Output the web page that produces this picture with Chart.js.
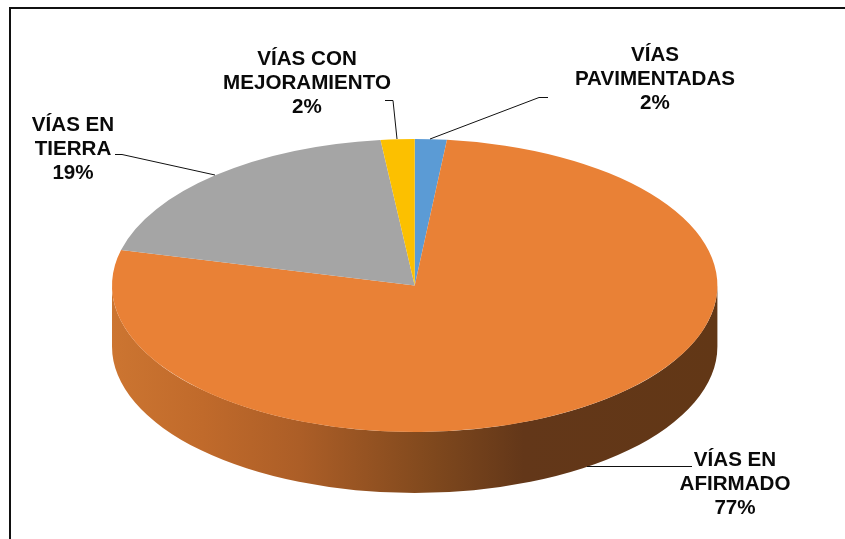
<!DOCTYPE html>
<html>
<head>
<meta charset="utf-8">
<title>Vías</title>
<script src="https://cdn.jsdelivr.net/npm/chart.js@4"></script>
<style>
    html, body { margin: 0; padding: 0; background: #fff; overflow: hidden; }
    canvas { display: block; }
</style>
</head>
<body>
<canvas id="viasChart" width="845" height="539"></canvas>
<script>
const categories = ['VÍAS PAVIMENTADAS', 'VÍAS EN AFIRMADO', 'VÍAS EN TIERRA', 'VÍAS CON MEJORAMIENTO'];
const values = [1.7, 77.2, 19.3, 1.8];
const sliceColors = ['#5b9bd5', '#e98136', '#a5a5a5', '#fcc000'];

// label placement, one entry per category
const labelLines = [['VÍAS', 'PAVIMENTADAS'], ['VÍAS EN', 'AFIRMADO'], ['VÍAS EN', 'TIERRA'], ['VÍAS CON', 'MEJORAMIENTO']];
const labelCenters = [[655, 55], [735, 460], [73, 125], [307, 59]];
const leaders = [
    [[548, 97.5], [539, 97.5], [430, 139]],
    [[692, 466.5], [587, 466.5]],
    [[115, 154.5], [122, 154.5], [215, 175]],
    [[385, 100.5], [393, 100.5], [397, 139]]
];

const squash = 302.7 / 146.5;
const wallDepth = 61;

// Side wall below the pie, then stretches the round pie into an ellipse
const pie3d = {
    id: 'pie3d',
    beforeDatasetsDraw(chart) {
        const ctx = chart.ctx;
        const arcs = chart.getDatasetMeta(0).data;
        const cx = arcs[0].x, cy = arcs[0].y;
        const rx = arcs[0].outerRadius * squash, ry = arcs[0].outerRadius;

        const wall = ctx.createLinearGradient(cx - rx, 0, cx + rx, 0);
        wall.addColorStop(0, '#cc7531');
        wall.addColorStop(0.15, '#c06a2b');
        wall.addColorStop(0.31, '#ac5e27');
        wall.addColorStop(0.53, '#7f481d');
        wall.addColorStop(0.68, '#633719');
        wall.addColorStop(1, '#623716');

        arcs.forEach(function (arc) {
            const from = Math.max(arc.startAngle, 0);
            const to = Math.min(arc.endAngle, Math.PI);
            if (to <= from) return;
            ctx.beginPath();
            ctx.ellipse(cx, cy, rx, ry, 0, from, to);
            ctx.ellipse(cx, cy + wallDepth, rx, ry, 0, to, from, true);
            ctx.closePath();
            ctx.fillStyle = wall;
            ctx.fill();
        });

        ctx.save();
        ctx.translate(cx, 0);
        ctx.scale(squash, 1);
        ctx.translate(-cx, 0);
    },
    afterDatasetsDraw(chart) {
        chart.ctx.restore();
    },
    afterDraw(chart) {
        const ctx = chart.ctx;

        // frame, only top and left in the picture
        ctx.strokeStyle = '#111';
        ctx.lineWidth = 2;
        ctx.beginPath();
        ctx.moveTo(845, 8);
        ctx.lineTo(10, 8);
        ctx.lineTo(10, 539);
        ctx.stroke();

        ctx.strokeStyle = '#111';
        ctx.lineWidth = 1;
        leaders.forEach(function (pts) {
            ctx.beginPath();
            pts.forEach(function (p, i) {
                if (i === 0) ctx.moveTo(p[0], p[1]);
                else ctx.lineTo(p[0], p[1]);
            });
            ctx.stroke();
        });

        ctx.fillStyle = '#0a0a0a';
        ctx.font = 'bold 20.6px "Liberation Sans"';
        ctx.textAlign = 'center';
        ctx.textBaseline = 'middle';
        categories.forEach(function (name, i) {
            const lines = labelLines[i].concat(Math.round(values[i]) + '%');
            lines.forEach(function (line, j) {
                ctx.fillText(line, labelCenters[i][0], labelCenters[i][1] + j * 24);
            });
        });
    }
};

new Chart(document.getElementById('viasChart').getContext('2d'), {
    type: 'pie',
    data: {
        labels: categories,
        datasets: [{
            data: values,
            backgroundColor: sliceColors,
            borderWidth: 0,
            hoverOffset: 0
        }]
    },
    options: {
        responsive: false,
        animation: false,
        events: [],
        layout: {
            padding: { left: 0, right: 15.6, top: 139, bottom: 107 }
        },
        plugins: {
            legend: { display: false },
            tooltip: { enabled: false }
        }
    },
    plugins: [pie3d]
});
</script>
</body>
</html>
